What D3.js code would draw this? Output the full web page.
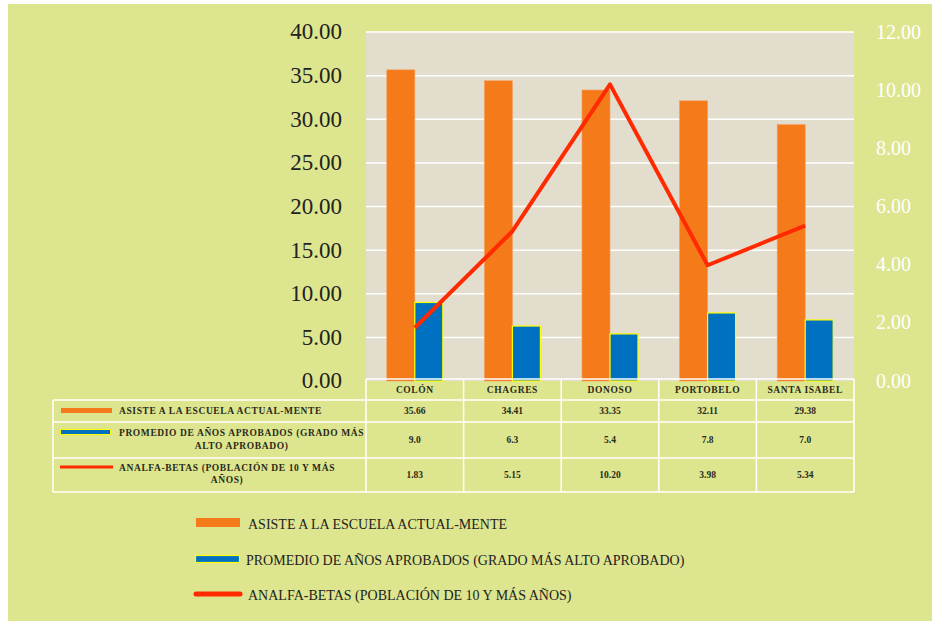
<!DOCTYPE html>
<html>
<head>
<meta charset="utf-8">
<script src="https://cdn.jsdelivr.net/npm/d3@7"></script>
<style>
  body { margin: 0; background: #fff; }
  svg { display: block; }
  svg text { font-family: "Liberation Serif", "DejaVu Serif", serif !important; }
</style>
</head>
<body>
<svg id="chart"></svg>
<script>
// data
const categories = ["COLÓN", "CHAGRES", "DONOSO", "PORTOBELO", "SANTA ISABEL"];
const asiste = [35.66, 34.41, 33.35, 32.11, 29.38];
const promedio = [9.0, 6.3, 5.4, 7.8, 7.0];
const analfabetas = [1.83, 5.15, 10.20, 3.98, 5.34];
const leftTicks = [0, 5, 10, 15, 20, 25, 30, 35, 40];
const rightTicks = [0, 2, 4, 6, 8, 10, 12];
const seriesNames = [
  "ASISTE A LA ESCUELA ACTUAL-MENTE",
  "PROMEDIO DE AÑOS APROBADOS (GRADO MÁS ALTO APROBADO)",
  "ANALFA-BETAS (POBLACIÓN DE 10 Y MÁS AÑOS)"
];
// wrapped text used in the data table
const tableNames = [
  ["ASISTE A LA ESCUELA ACTUAL-MENTE"],
  ["PROMEDIO DE AÑOS APROBADOS (GRADO MÁS", "ALTO APROBADO)"],
  ["ANALFA-BETAS (POBLACIÓN DE 10 Y MÁS", "AÑOS)"]
];

const width = 932, height = 621;
const plot = {left: 366, right: 854, top: 32, bottom: 381};
const orange = "#f57a1a", blue = "#0070c0", yellow = "#ffff00", red = "#ff2a00";
const green = "#dde58f", plotBg = "#e3ddcd";

const svg = d3.select("#chart").attr("width", width).attr("height", height);

svg.append("rect").attr("x", 8).attr("y", 4)
  .attr("width", width - 8).attr("height", height - 4).attr("fill", green);
svg.append("rect").attr("x", plot.left).attr("y", plot.top)
  .attr("width", plot.right - plot.left).attr("height", plot.bottom - plot.top)
  .attr("fill", plotBg);

const x = d3.scaleBand().domain(categories).range([plot.left, plot.right]);
const y = d3.scaleLinear().domain([0, 40]).range([plot.bottom, plot.top]);
const yR = d3.scaleLinear().domain([0, 12]).range([plot.bottom, plot.top]);
const barW = 28;

// gridlines
svg.append("g")
  .selectAll("line")
  .data(leftTicks.filter(d => d > 0))
  .join("line")
    .attr("x1", plot.left).attr("x2", plot.right)
    .attr("y1", d => y(d)).attr("y2", d => y(d))
    .attr("stroke", "#fff").attr("stroke-width", 1.5);

// axes
svg.append("g")
  .attr("transform", "translate(342,0)")
  .call(d3.axisLeft(y).tickValues(leftTicks).tickFormat(d3.format(".2f")).tickSize(0).tickPadding(0))
  .call(g => g.select(".domain").remove())
  .call(g => g.attr("font-family", null).selectAll("text")
    .attr("fill", "#222").attr("font-size", 23).attr("dy", "0.3em"));

svg.append("g")
  .attr("transform", "translate(876,0)")
  .call(d3.axisRight(yR).tickValues(rightTicks).tickFormat(d3.format(".2f")).tickSize(0).tickPadding(0))
  .call(g => g.select(".domain").remove())
  .call(g => g.attr("font-family", null).selectAll("text")
    .attr("fill", "#fff").attr("font-size", 20).attr("dy", "0.3em"));

// bars
svg.append("g")
  .selectAll("rect")
  .data(asiste)
  .join("rect")
    .attr("x", (d, i) => x(categories[i]) + x.bandwidth() / 2 - barW)
    .attr("y", d => y(d))
    .attr("width", barW)
    .attr("height", d => y(0) - y(d))
    .attr("fill", orange)
    .attr("stroke", "#f59a5a").attr("stroke-width", 0.6);

svg.append("g")
  .selectAll("rect")
  .data(promedio)
  .join("rect")
    .attr("x", (d, i) => x(categories[i]) + x.bandwidth() / 2)
    .attr("y", d => y(d))
    .attr("width", barW)
    .attr("height", d => y(0) - y(d))
    .attr("fill", blue)
    .attr("stroke", yellow).attr("stroke-width", 1.2);

// line
const line = d3.line()
  .x((d, i) => x(categories[i]) + x.bandwidth() / 2)
  .y(d => yR(d));

svg.append("path")
  .datum(analfabetas)
  .attr("d", line)
  .attr("fill", "none")
  .attr("stroke", red)
  .attr("stroke-width", 4)
  .attr("stroke-linejoin", "round");

// data table
const rows = [379, 400, 422, 458, 492];
const tbl = svg.append("g");
const tableLeft = 53;
tbl.append("line").attr("x1", plot.left).attr("x2", plot.right)
  .attr("y1", rows[0]).attr("y2", rows[0]);
rows.slice(1).forEach(r => {
  tbl.append("line").attr("x1", tableLeft).attr("x2", plot.right).attr("y1", r).attr("y2", r);
});
tbl.append("line").attr("x1", tableLeft).attr("x2", tableLeft).attr("y1", rows[1]).attr("y2", rows[4]);
categories.forEach(c => {
  tbl.append("line").attr("x1", x(c)).attr("x2", x(c)).attr("y1", rows[0]).attr("y2", rows[4]);
});
tbl.append("line").attr("x1", plot.right).attr("x2", plot.right).attr("y1", rows[0]).attr("y2", rows[4]);
tbl.selectAll("line").attr("stroke", "#fff").attr("stroke-width", 1.5);

const small = g => g
  .attr("fill", "#2a2a1a")
  .attr("font-size", 9.5)
  .attr("font-weight", "bold")
  .attr("letter-spacing", 0.6)
  .attr("text-anchor", "middle");

tbl.append("g").selectAll("text")
  .data(categories)
  .join("text")
    .attr("x", d => x(d) + x.bandwidth() / 2)
    .attr("y", (rows[0] + rows[1]) / 2 + 3)
    .text(d => d)
    .call(small);

const tableValues = [
  asiste.map(d3.format(".2f")),
  promedio.map(d3.format(".1f")),
  analfabetas.map(d3.format(".2f"))
];
tableValues.forEach((vals, r) => {
  tbl.append("g").selectAll("text")
    .data(vals)
    .join("text")
      .attr("x", (d, i) => x(categories[i]) + x.bandwidth() / 2)
      .attr("y", (rows[r + 1] + rows[r + 2]) / 2 + 3)
      .text(d => d)
      .call(small)
      .attr("letter-spacing", 0);
});

// table row labels with keys
tbl.append("rect").attr("x", 61).attr("y", 408).attr("width", 51).attr("height", 5).attr("fill", orange);
tbl.append("rect").attr("x", 60.5).attr("y", 429.5).attr("width", 50).attr("height", 5)
  .attr("fill", blue).attr("stroke", yellow).attr("stroke-width", 1);
tbl.append("line").attr("x1", 60).attr("x2", 113).attr("y1", 467).attr("y2", 467)
  .attr("stroke", red).attr("stroke-width", 3);

const labelLines = [[414], [436, 449], [471, 483]];
tableNames.forEach((lines, r) => {
  let center = null;
  lines.forEach((t, k) => {
    const txt = tbl.append("text")
      .attr("y", labelLines[r][k])
      .text(t)
      .call(small);
    if (k === 0) {
      txt.attr("text-anchor", "start").attr("x", 119);
      center = 119 + txt.node().getComputedTextLength() / 2;
    } else {
      txt.attr("x", center);
    }
  });
});

// legend
const legend = svg.append("g");
legend.append("rect").attr("x", 196).attr("y", 518).attr("width", 44).attr("height", 9).attr("fill", orange);
legend.append("rect").attr("x", 195.5).attr("y", 555.5).attr("width", 44).attr("height", 7)
  .attr("fill", blue).attr("stroke", yellow).attr("stroke-width", 1.2);
legend.append("line").attr("x1", 196).attr("x2", 240).attr("y1", 594).attr("y2", 594)
  .attr("stroke", red).attr("stroke-width", 5).attr("stroke-linecap", "round");

legend.selectAll("text")
  .data(seriesNames)
  .join("text")
    .attr("x", (d, i) => [248, 246, 248][i])
    .attr("y", (d, i) => [529, 565, 600][i])
    .attr("fill", "#222")
    .attr("font-size", 14)
    .text(d => d);
</script>
</body>
</html>
